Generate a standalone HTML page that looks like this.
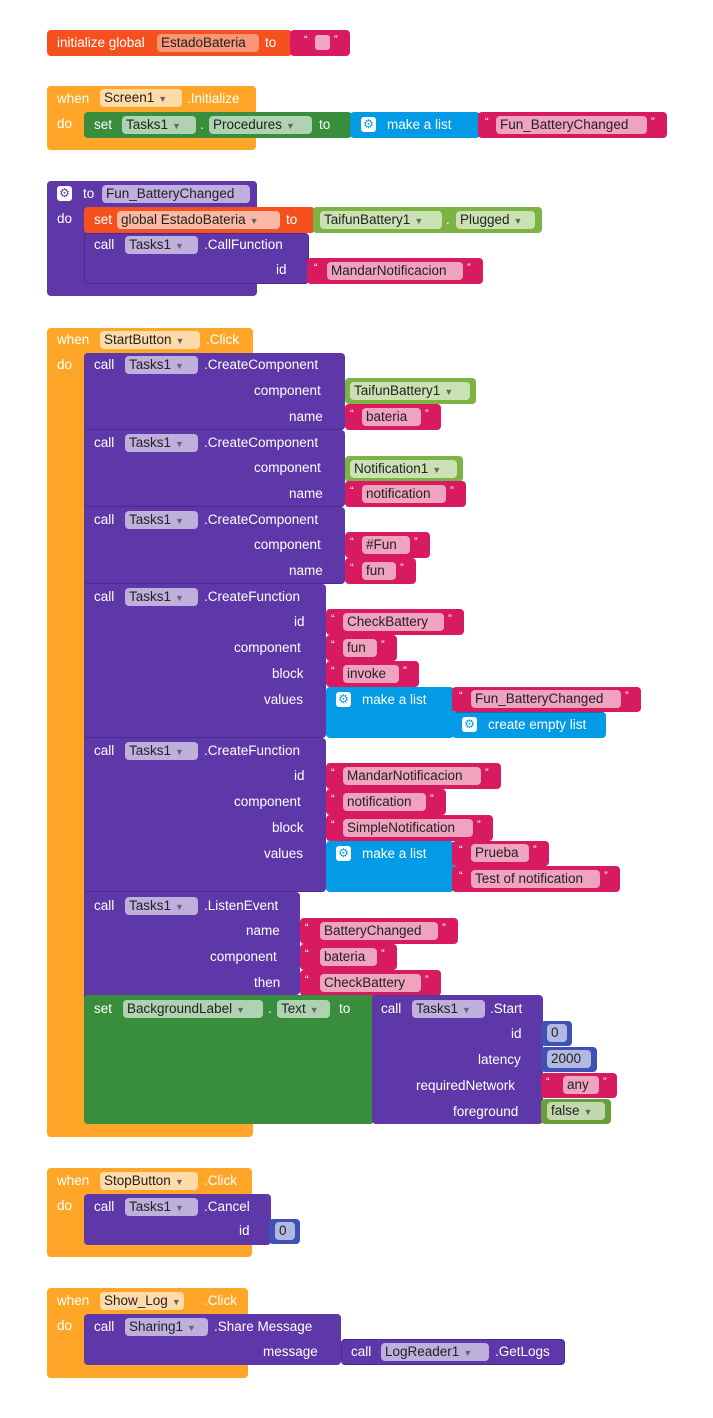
<!DOCTYPE html>
<html><head><meta charset="utf-8"><style>
body{margin:0;width:713px;height:1418px;background:#fff;position:relative;overflow:hidden;font-family:"Liberation Sans",sans-serif;}
div,span{position:absolute;box-sizing:border-box}
.b{border-radius:4px}
.t{color:#fff;font-size:13.5px;line-height:16px;white-space:nowrap}
.p{height:18px;border-radius:4px;background:rgba(255,255,255,.6);color:#222;font-size:13.5px;line-height:18px;padding:0 4px;white-space:nowrap;text-align:left;overflow:hidden}
.p i{font-style:normal;font-size:9px;color:#666;margin-left:4px}
.O{background:#ffa629}.P{background:#5e37a8}.K{background:#d81b60}.G{background:#388e3c}.L{background:#7cb342}.B{background:#039be5}.R{background:#f4511e}.M{background:#3f51b5}.F{background:#689f38}
.g{width:15px;height:15px;border-radius:3px;background:#fff;color:#039be5;font-size:12px;line-height:15px;text-align:center}
.q{color:#fff;font-size:11px}
</style></head><body>

<!-- 1 init global -->
<div class="b R" style="left:47px;top:30px;width:245px;height:26px"></div>
<span class="t" style="left:57px;top:35px">initialize global</span>
<span class="p" style="left:157px;top:34px;width:102px;background:rgba(255,255,255,.4)">EstadoBateria</span>
<span class="t" style="left:265px;top:35px">to</span>
<div class="b K" style="left:290px;top:30px;width:60px;height:26px"></div>
<span class="q" style="left:304px;top:34px">“</span><div style="left:315px;top:35px;width:15px;height:15px;background:#f0a6c4;border-radius:3px"></div><span class="q" style="left:334px;top:34px">”</span>

<!-- 2 Screen1 -->
<div class="b O" style="left:47px;top:86px;width:209px;height:64px"></div>
<span class="t" style="left:57px;top:91px">when</span>
<span class="p" style="left:100px;top:89px;width:82px">Screen1<i>▼</i></span>
<span class="t" style="left:187px;top:91px">.Initialize</span>
<span class="t" style="left:57px;top:116px">do</span>
<div class="b G" style="left:84px;top:112px;width:268px;height:26px"></div>
<span class="t" style="left:94px;top:117px">set</span>
<span class="p" style="left:122px;top:116px;width:74px">Tasks1<i>▼</i></span>
<span class="t" style="left:200px;top:117px">.</span>
<span class="p" style="left:209px;top:116px;width:103px">Procedures<i>▼</i></span>
<span class="t" style="left:319px;top:117px">to</span>
<div class="b B" style="left:350px;top:112px;width:130px;height:26px"></div>
<span class="g" style="left:361px;top:117px">⚙</span>
<span class="t" style="left:387px;top:117px">make a list</span>
<div class="b K" style="left:478px;top:112px;width:189px;height:26px"></div>
<span class="q" style="left:485px;top:116px">“</span><span class="p" style="left:496px;top:116px;width:151px">Fun_BatteryChanged</span><span class="q" style="left:651px;top:116px">”</span>

<!-- 3 procedure -->
<div class="b P" style="left:47px;top:181px;width:210px;height:115px"></div>
<span class="g" style="left:57px;top:186px;color:#5e37a8">⚙</span>
<span class="t" style="left:83px;top:186px">to</span>
<span class="p" style="left:102px;top:185px;width:148px">Fun_BatteryChanged</span>
<span class="t" style="left:57px;top:211px">do</span>
<div class="b R" style="left:84px;top:207px;width:231px;height:26px"></div>
<span class="t" style="left:94px;top:212px">set</span>
<span class="p" style="left:117px;top:211px;width:163px">global EstadoBateria<i>▼</i></span>
<span class="t" style="left:286px;top:212px">to</span>
<div class="b L" style="left:313px;top:207px;width:229px;height:26px"></div>
<span class="p" style="left:320px;top:211px;width:122px">TaifunBattery1<i>▼</i></span>
<span class="t" style="left:446px;top:212px">.</span>
<span class="p" style="left:456px;top:211px;width:79px">Plugged<i>▼</i></span>
<div class="b P" style="left:84px;top:233px;width:225px;height:51px;border:1px solid #4a2a90"></div>
<span class="t" style="left:94px;top:237px">call</span>
<span class="p" style="left:125px;top:236px;width:73px">Tasks1<i>▼</i></span>
<span class="t" style="left:204px;top:237px">.CallFunction</span>
<span class="t" style="left:276px;top:262px">id</span>
<div class="b K" style="left:307px;top:258px;width:176px;height:26px"></div>
<span class="q" style="left:314px;top:262px">“</span><span class="p" style="left:327px;top:262px;width:136px">MandarNotificacion</span><span class="q" style="left:467px;top:262px">”</span>

<!-- 4 StartButton -->
<div class="b O" style="left:47px;top:328px;width:206px;height:809px"></div>
<span class="t" style="left:57px;top:332px">when</span>
<span class="p" style="left:100px;top:331px;width:100px">StartButton<i>▼</i></span>
<span class="t" style="left:206px;top:332px">.Click</span>
<span class="t" style="left:57px;top:357px">do</span>
<div class="b" style="left:84px;top:353px;width:200px;height:771px;background:#5e37a8"></div>

<div class="b P" style="left:84px;top:353px;width:261px;height:77px;border-bottom:1px solid #4a2a90"></div>
<span class="t" style="left:94px;top:357px">call</span><span class="p" style="left:125px;top:356px;width:73px">Tasks1<i>▼</i></span><span class="t" style="left:204px;top:357px">.CreateComponent</span>
<span class="t" style="left:254px;top:383px">component</span><span class="t" style="left:289px;top:409px">name</span>
<div class="b L" style="left:345px;top:378px;width:131px;height:26px"></div><span class="p" style="left:350px;top:382px;width:120px">TaifunBattery1<i>▼</i></span>
<div class="b K" style="left:345px;top:404px;width:96px;height:26px"></div><span class="q" style="left:350px;top:408px">“</span><span class="p" style="left:362px;top:408px;width:59px">bateria</span><span class="q" style="left:425px;top:408px">”</span>

<div class="b P" style="left:84px;top:430px;width:261px;height:77px;border-bottom:1px solid #4a2a90"></div>
<span class="t" style="left:94px;top:435px">call</span><span class="p" style="left:125px;top:434px;width:73px">Tasks1<i>▼</i></span><span class="t" style="left:204px;top:435px">.CreateComponent</span>
<span class="t" style="left:254px;top:460px">component</span><span class="t" style="left:289px;top:486px">name</span>
<div class="b L" style="left:345px;top:456px;width:118px;height:26px"></div><span class="p" style="left:350px;top:460px;width:107px">Notification1<i>▼</i></span>
<div class="b K" style="left:345px;top:481px;width:121px;height:26px"></div><span class="q" style="left:350px;top:485px">“</span><span class="p" style="left:362px;top:485px;width:84px">notification</span><span class="q" style="left:450px;top:485px">”</span>

<div class="b P" style="left:84px;top:507px;width:261px;height:77px;border-bottom:1px solid #4a2a90"></div>
<span class="t" style="left:94px;top:512px">call</span><span class="p" style="left:125px;top:511px;width:73px">Tasks1<i>▼</i></span><span class="t" style="left:204px;top:512px">.CreateComponent</span>
<span class="t" style="left:254px;top:537px">component</span><span class="t" style="left:289px;top:563px">name</span>
<div class="b K" style="left:345px;top:532px;width:85px;height:26px"></div><span class="q" style="left:350px;top:536px">“</span><span class="p" style="left:362px;top:536px;width:48px">#Fun</span><span class="q" style="left:414px;top:536px">”</span>
<div class="b K" style="left:345px;top:558px;width:71px;height:26px"></div><span class="q" style="left:350px;top:562px">“</span><span class="p" style="left:362px;top:562px;width:34px">fun</span><span class="q" style="left:400px;top:562px">”</span>

<div class="b P" style="left:84px;top:584px;width:242px;height:154px;border-bottom:1px solid #4a2a90"></div>
<span class="t" style="left:94px;top:589px">call</span><span class="p" style="left:125px;top:588px;width:73px">Tasks1<i>▼</i></span><span class="t" style="left:204px;top:589px">.CreateFunction</span>
<span class="t" style="left:294px;top:614px">id</span><span class="t" style="left:234px;top:640px">component</span><span class="t" style="left:272px;top:666px">block</span><span class="t" style="left:264px;top:692px">values</span>
<div class="b K" style="left:326px;top:609px;width:138px;height:26px"></div><span class="q" style="left:331px;top:613px">“</span><span class="p" style="left:343px;top:613px;width:101px">CheckBattery</span><span class="q" style="left:448px;top:613px">”</span>
<div class="b K" style="left:326px;top:635px;width:71px;height:26px"></div><span class="q" style="left:331px;top:639px">“</span><span class="p" style="left:343px;top:639px;width:34px">fun</span><span class="q" style="left:381px;top:639px">”</span>
<div class="b K" style="left:326px;top:661px;width:93px;height:26px"></div><span class="q" style="left:331px;top:665px">“</span><span class="p" style="left:343px;top:665px;width:56px">invoke</span><span class="q" style="left:403px;top:665px">”</span>
<div class="b B" style="left:326px;top:687px;width:128px;height:51px"></div><span class="g" style="left:336px;top:692px">⚙</span><span class="t" style="left:362px;top:692px">make a list</span>
<div class="b K" style="left:452px;top:687px;width:189px;height:25px"></div><span class="q" style="left:459px;top:690px">“</span><span class="p" style="left:471px;top:690px;width:150px">Fun_BatteryChanged</span><span class="q" style="left:625px;top:690px">”</span>
<div class="b B" style="left:452px;top:712px;width:154px;height:26px;border-top:1px solid #0277bd"></div><span class="g" style="left:462px;top:717px">⚙</span><span class="t" style="left:488px;top:717px">create empty list</span>

<div class="b P" style="left:84px;top:738px;width:242px;height:154px;border-bottom:1px solid #4a2a90"></div>
<span class="t" style="left:94px;top:743px">call</span><span class="p" style="left:125px;top:742px;width:73px">Tasks1<i>▼</i></span><span class="t" style="left:204px;top:743px">.CreateFunction</span>
<span class="t" style="left:294px;top:768px">id</span><span class="t" style="left:234px;top:794px">component</span><span class="t" style="left:272px;top:820px">block</span><span class="t" style="left:264px;top:846px">values</span>
<div class="b K" style="left:326px;top:763px;width:175px;height:26px"></div><span class="q" style="left:331px;top:767px">“</span><span class="p" style="left:343px;top:767px;width:138px">MandarNotificacion</span><span class="q" style="left:485px;top:767px">”</span>
<div class="b K" style="left:326px;top:789px;width:120px;height:26px"></div><span class="q" style="left:331px;top:793px">“</span><span class="p" style="left:343px;top:793px;width:83px">notification</span><span class="q" style="left:430px;top:793px">”</span>
<div class="b K" style="left:326px;top:815px;width:167px;height:26px"></div><span class="q" style="left:331px;top:819px">“</span><span class="p" style="left:343px;top:819px;width:130px">SimpleNotification</span><span class="q" style="left:477px;top:819px">”</span>
<div class="b B" style="left:326px;top:841px;width:128px;height:51px"></div><span class="g" style="left:336px;top:846px">⚙</span><span class="t" style="left:362px;top:846px">make a list</span>
<div class="b K" style="left:452px;top:841px;width:97px;height:25px"></div><span class="q" style="left:459px;top:844px">“</span><span class="p" style="left:471px;top:844px;width:58px">Prueba</span><span class="q" style="left:533px;top:844px">”</span>
<div class="b K" style="left:452px;top:866px;width:168px;height:26px"></div><span class="q" style="left:459px;top:870px">“</span><span class="p" style="left:471px;top:870px;width:129px">Test of notification</span><span class="q" style="left:604px;top:870px">”</span>

<div class="b P" style="left:84px;top:892px;width:216px;height:103px"></div>
<span class="t" style="left:94px;top:898px">call</span><span class="p" style="left:125px;top:897px;width:73px">Tasks1<i>▼</i></span><span class="t" style="left:204px;top:898px">.ListenEvent</span>
<span class="t" style="left:246px;top:923px">name</span><span class="t" style="left:210px;top:949px">component</span><span class="t" style="left:254px;top:975px">then</span>
<div class="b K" style="left:300px;top:918px;width:158px;height:26px"></div><span class="q" style="left:305px;top:922px">“</span><span class="p" style="left:320px;top:922px;width:118px">BatteryChanged</span><span class="q" style="left:442px;top:922px">”</span>
<div class="b K" style="left:300px;top:944px;width:97px;height:26px"></div><span class="q" style="left:305px;top:948px">“</span><span class="p" style="left:320px;top:948px;width:57px">bateria</span><span class="q" style="left:381px;top:948px">”</span>
<div class="b K" style="left:300px;top:970px;width:141px;height:26px"></div><span class="q" style="left:305px;top:974px">“</span><span class="p" style="left:320px;top:974px;width:101px">CheckBattery</span><span class="q" style="left:425px;top:974px">”</span>

<div class="b G" style="left:84px;top:995px;width:290px;height:129px"></div>
<span class="t" style="left:94px;top:1001px">set</span><span class="p" style="left:123px;top:1000px;width:140px">BackgroundLabel<i>▼</i></span><span class="t" style="left:268px;top:1001px">.</span><span class="p" style="left:277px;top:1000px;width:53px">Text<i>▼</i></span><span class="t" style="left:339px;top:1001px">to</span>
<div class="b P" style="left:372px;top:995px;width:171px;height:129px"></div>
<span class="t" style="left:381px;top:1001px">call</span><span class="p" style="left:412px;top:1000px;width:73px">Tasks1<i>▼</i></span><span class="t" style="left:490px;top:1001px">.Start</span>
<span class="t" style="left:511px;top:1026px">id</span><span class="t" style="left:478px;top:1052px">latency</span><span class="t" style="left:416px;top:1078px">requiredNetwork</span><span class="t" style="left:453px;top:1104px">foreground</span>
<div class="b M" style="left:541px;top:1021px;width:31px;height:25px"></div><span class="p" style="left:547px;top:1024px;width:20px">0</span>
<div class="b M" style="left:541px;top:1047px;width:56px;height:25px"></div><span class="p" style="left:547px;top:1050px;width:44px">2000</span>
<div class="b K" style="left:541px;top:1073px;width:76px;height:25px"></div><span class="q" style="left:546px;top:1076px">“</span><span class="p" style="left:563px;top:1076px;width:36px">any</span><span class="q" style="left:603px;top:1076px">”</span>
<div class="b F" style="left:541px;top:1099px;width:70px;height:25px"></div><span class="p" style="left:547px;top:1102px;width:58px">false<i>▼</i></span>

<!-- 5 StopButton -->
<div class="b O" style="left:47px;top:1168px;width:205px;height:89px"></div>
<span class="t" style="left:57px;top:1173px">when</span><span class="p" style="left:100px;top:1172px;width:98px">StopButton<i>▼</i></span><span class="t" style="left:204px;top:1173px">.Click</span>
<span class="t" style="left:57px;top:1198px">do</span>
<div class="b P" style="left:84px;top:1194px;width:187px;height:51px"></div>
<span class="t" style="left:94px;top:1199px">call</span><span class="p" style="left:125px;top:1198px;width:73px">Tasks1<i>▼</i></span><span class="t" style="left:204px;top:1199px">.Cancel</span>
<span class="t" style="left:239px;top:1223px">id</span>
<div class="b M" style="left:269px;top:1219px;width:31px;height:25px"></div><span class="p" style="left:275px;top:1222px;width:20px">0</span>

<!-- 6 Show_Log -->
<div class="b O" style="left:47px;top:1288px;width:201px;height:90px"></div>
<span class="t" style="left:57px;top:1293px">when</span><span class="p" style="left:100px;top:1292px;width:84px">Show_Log<i>▼</i></span><span class="t" style="left:204px;top:1293px">.Click</span>
<span class="t" style="left:57px;top:1318px">do</span>
<div class="b P" style="left:84px;top:1314px;width:257px;height:51px"></div>
<span class="t" style="left:94px;top:1319px">call</span><span class="p" style="left:125px;top:1318px;width:83px">Sharing1<i>▼</i></span><span class="t" style="left:214px;top:1319px">.Share Message</span>
<span class="t" style="left:263px;top:1344px">message</span>
<div class="b P" style="left:341px;top:1339px;width:224px;height:26px;border:1px solid #4a2a90"></div>
<span class="t" style="left:351px;top:1344px">call</span><span class="p" style="left:381px;top:1343px;width:108px">LogReader1<i>▼</i></span><span class="t" style="left:495px;top:1344px">.GetLogs</span>
</body></html>
